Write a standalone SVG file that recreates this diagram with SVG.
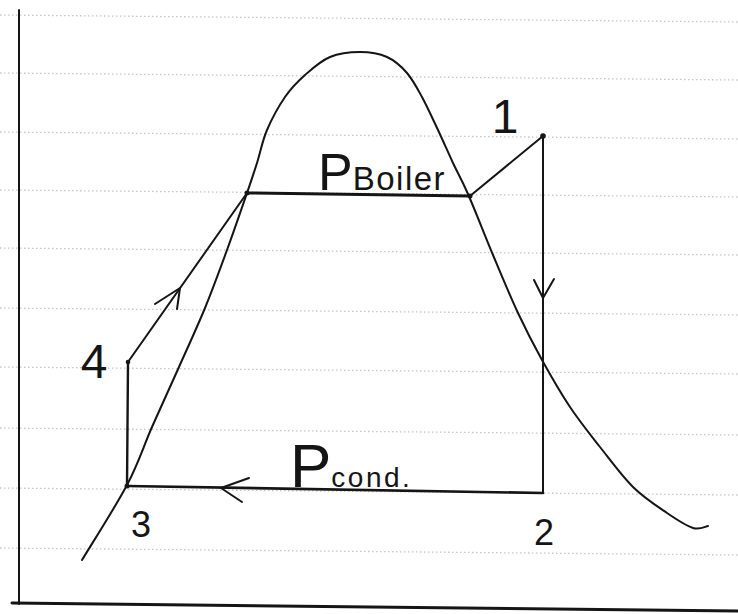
<svg xmlns="http://www.w3.org/2000/svg" width="738" height="614" viewBox="0 0 738 614">
<style>
.ink{fill:none;stroke:#151515;stroke-linecap:round;stroke-linejoin:round}
.thin{stroke-width:2}
.thick{stroke-width:3}
.rule{stroke:#c6c6c6;stroke-width:1.3;stroke-dasharray:1.5 2.5;fill:none}
.lbl{font-family:"Liberation Sans","DejaVu Sans",sans-serif;fill:#151515;font-weight:normal}
.dot{fill:#151515}
</style>
<rect width="738" height="614" fill="#ffffff"/>
<g id="paper-rules">
<line class="rule" x1="0" y1="15" x2="738" y2="22"/>
<line class="rule" x1="0" y1="73" x2="738" y2="80"/>
<line class="rule" x1="0" y1="132" x2="738" y2="139"/>
<line class="rule" x1="0" y1="190" x2="738" y2="197"/>
<line class="rule" x1="0" y1="248" x2="738" y2="255"/>
<line class="rule" x1="0" y1="308" x2="738" y2="315"/>
<line class="rule" x1="0" y1="367" x2="738" y2="374"/>
<line class="rule" x1="0" y1="428" x2="738" y2="435"/>
<line class="rule" x1="0" y1="488" x2="738" y2="495"/>
<line class="rule" x1="0" y1="548" x2="738" y2="555"/>
</g>
<g id="axes">
<line class="ink thin" x1="19" y1="10" x2="19" y2="604"/>
<line class="ink thick" x1="12" y1="603" x2="738" y2="611"/>
</g>
<g id="dome">
<path class="ink thin" d="M82,560 C89.5,547.5 115.3,507.2 127,485 C138.7,462.8 143.3,446.7 152,427 C160.7,407.3 170.2,386.8 179,367 C187.8,347.2 197,327.5 205,308 C213,288.5 220,269.2 227,250 C234,230.8 242,207.5 247,193 C252,178.5 253.7,173.5 257,163 C260.3,152.5 262.3,141 267,130 C271.7,119 278.7,106.2 285,97 C291.3,87.8 297.5,81.7 305,75 C312.5,68.3 320.8,60.8 330,57 C339.2,53.2 350.5,52 360,52 C369.5,52 379.2,53.5 387,57 C394.8,60.5 401.2,66.3 407,73 C412.8,79.7 416.8,87.5 422,97 C427.2,106.5 432.8,119 438,130 C443.2,141 448,152.3 453,163 C458,173.7 461.3,178.7 468,194 C474.7,209.3 484.7,235.2 493,255 C501.3,274.8 509.8,295.5 518,313 C526.2,330.5 533.3,344.3 542,360 C550.7,375.7 560.3,392.5 570,407 C579.7,421.5 589.5,433.7 600,447 C610.5,460.3 621.8,476 633,487 C644.2,498 657,506.2 667,513 C677,519.8 686.2,525.8 693,528 C699.8,530.2 705.5,526.3 708,526"/>
</g>
<g id="connectors">
<line id="boiler-line" class="ink thick" x1="247" y1="193" x2="470" y2="196"/>
<line id="superheat" class="ink thin" x1="470" y1="196" x2="543" y2="136"/>
<line id="turbine" class="ink thin" x1="543" y1="136" x2="543" y2="493"/>
<polyline class="ink thin" points="534,280 543,298 554,279"/>
<line id="condenser" class="ink" stroke-width="2.6" x1="543" y1="493" x2="127" y2="486"/>
<polyline class="ink thin" points="249,478 221,488 242,502"/>
<line id="pump" class="ink" stroke-width="2.4" x1="127" y1="486" x2="128" y2="362"/>
<line id="heating" class="ink thin" x1="128" y1="362" x2="247" y2="193"/>
<polyline class="ink thin" points="155,304 180,288 177,309"/>
</g>
<g id="sat-liquid"><circle class="dot" cx="247" cy="193" r="2.5"/></g>
<g id="sat-vapor"><circle class="dot" cx="470" cy="196" r="2.5"/></g>
<g id="state-1">
<circle class="dot" cx="543" cy="136" r="2.8"/>
<text class="lbl" x="505" y="133" font-size="48" text-anchor="middle">1</text>
</g>
<g id="state-2">
<text class="lbl" x="544" y="545" font-size="36" text-anchor="middle">2</text>
</g>
<g id="state-3">
<circle class="dot" cx="127" cy="486" r="2.5"/>
<text class="lbl" x="141" y="537" font-size="36" text-anchor="middle">3</text>
</g>
<g id="state-4">
<circle class="dot" cx="128" cy="362" r="2.3"/>
<text class="lbl" x="94" y="378" font-size="48" text-anchor="middle">4</text>
</g>
<g id="label-boiler">
<text class="lbl" x="318" y="190"><tspan font-size="52">P</tspan><tspan font-size="33" letter-spacing="1.5">Boiler</tspan></text>
</g>
<g id="label-cond">
<text class="lbl" x="290" y="487"><tspan font-size="62">P</tspan><tspan font-size="28" letter-spacing="2.5">cond.</tspan></text>
</g>
</svg>
